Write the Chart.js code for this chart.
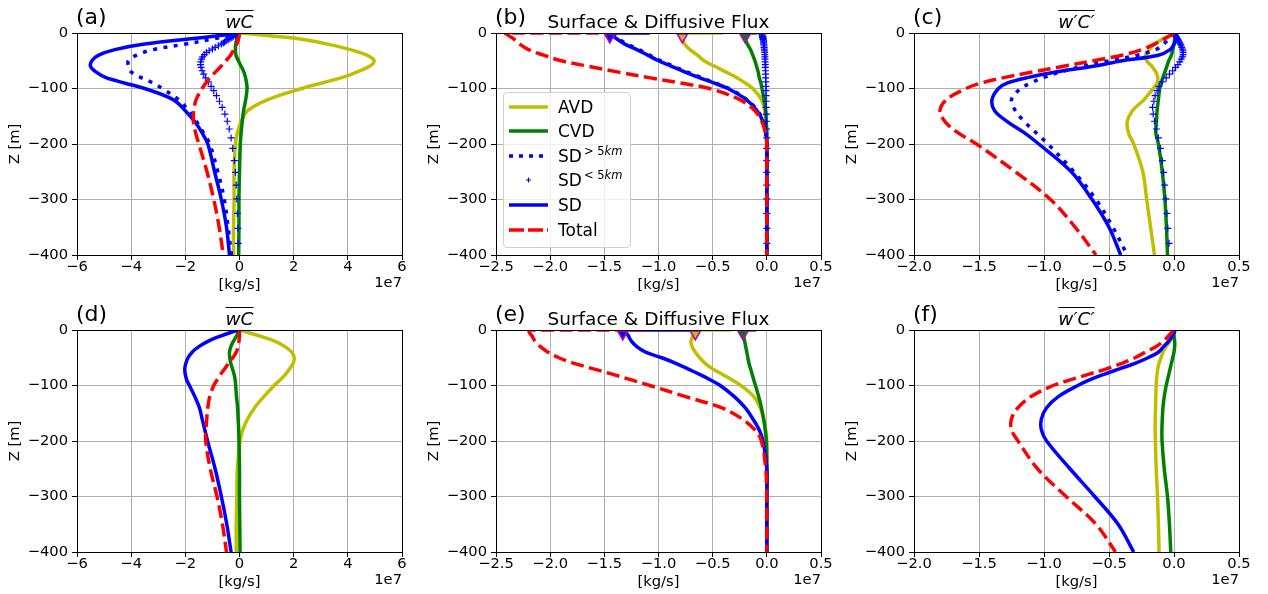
<!DOCTYPE html>
<html>
<head>
<meta charset="utf-8">
<script src="https://cdn.jsdelivr.net/npm/chart.js@4.4.1/dist/chart.umd.min.js"></script>
<style>
  body { margin: 0; background: #fff; }
  #fig { position: relative; width: 1268px; height: 594px; overflow: hidden; background: #fff;
         font-family: 'DejaVu Sans', sans-serif; color: #000; }
  #fig canvas { position: absolute; }
  .txt { position: absolute; white-space: nowrap; }
  .plabel { font-size: 22px; line-height: 22px; }
  .ptitle { font-size: 18.5px; line-height: 19px; text-align: center; }
  .ol { font-style: italic; text-decoration: overline; text-decoration-thickness: 1px; }
  .expo { font-size: 14.7px; line-height: 17px; text-align: right; }
  #legend { position: absolute; left: 503px; top: 92px; width: 126px; height: 154px;
            background: rgba(255,255,255,0.8); border: 1px solid #d0d0d0; border-radius: 4px; }
  #legend .row { position: absolute; left: 0; height: 24px; font-size: 17px; line-height: 24px; }
  #legend svg { position: absolute; left: 5px; top: 7px; }
  #legend .lab { position: absolute; left: 54px; top: 0; white-space: nowrap; }
  #legend sup { font-size: 11.5px; vertical-align: 7px; line-height: 0; margin-left: 2px; }
</style>
</head>
<body>
<div id="fig">
  <canvas id="pa" width="440" height="297" style="left:0px;top:0px"></canvas>
  <canvas id="pb" width="440" height="297" style="left:419px;top:0px"></canvas>
  <canvas id="pc" width="440" height="297" style="left:837px;top:0px"></canvas>
  <canvas id="pd" width="440" height="297" style="left:0px;top:297px"></canvas>
  <canvas id="pe" width="440" height="297" style="left:419px;top:297px"></canvas>
  <canvas id="pf" width="440" height="297" style="left:837px;top:297px"></canvas>
  <div id="legend"></div>
</div>
<script>
// depth of each profile point [m]
const depth = [0, -5, -10, -20, -30, -40, -50, -60, -70, -80, -90, -100, -120, -140, -160, -180, -200, -250, -300, -350, -400];
// model levels carrying the SD<5km markers [m]
const levels = [0, -2, -4, -6, -8, -10, -12, -14, -16, -18, -20, -23, -26, -29, -32, -35, -39, -43, -47, -52, -57, -62,
                -68, -74, -81, -88, -96, -104, -113, -123, -134, -146, -159, -173, -189, -208, -230, -251, -274, -299,
                -325, -352, -379];
// depth at which the surface-flux triangles sit [m]
const triDepth = -7;

// all fluxes in units of 1e7 kg/s
// (a) mean wC
const aAVD   = [0, 1.1, 2.1, 3.25, 4.1, 4.7, 4.97, 4.8, 4.35, 3.8, 3.05, 2.3, 1.05, 0.3, 0.06, -0.08, -0.15, -0.2, -0.2, -0.22, -0.22];
const aCVD   = [0, -0.04, -0.09, -0.14, -0.15, -0.13, -0.04, 0.06, 0.16, 0.22, 0.26, 0.28, 0.23, 0.15, 0.1, 0.06, 0.03, 0, -0.02, -0.02, -0.03];
const aSDgt  = [0, -0.4, -0.9, -2.0, -3.2, -3.8, -4.1, -4.1, -4.0, -3.65, -3.2, -2.85, -2.25, -1.88, -1.58, -1.33, -1.1, -0.8, -0.56, -0.42, -0.3];
const aSD    = [0, -0.8, -1.7, -3.5, -4.6, -5.2, -5.45, -5.5, -5.3, -4.95, -4.25, -3.5, -2.45, -2.0, -1.65, -1.38, -1.17, -0.92, -0.67, -0.48, -0.37];
const aTotal = [0, -0.01, -0.03, -0.1, -0.21, -0.33, -0.5, -0.68, -0.88, -1.08, -1.24, -1.38, -1.6, -1.69, -1.7, -1.62, -1.5, -1.2, -0.95, -0.75, -0.6];
const aSDlt  = [0, -0.08, -0.15, -0.22, -0.28, -0.35, -0.42, -0.5, -0.55, -0.6, -0.67, -0.78, -0.9, -1.0, -1.12, -1.22, -1.3,
                -1.36, -1.4, -1.43, -1.44, -1.42, -1.38, -1.32, -1.25, -1.15, -1.05, -0.95, -0.85, -0.74, -0.64, -0.54,
                -0.45, -0.38, -0.31, -0.25, -0.19, -0.15, -0.12, -0.1, -0.08, -0.06, -0.05];

// (b) surface & diffusive flux
const bAVD   = [-0.78, -0.78, -0.78, -0.76, -0.71, -0.64, -0.58, -0.48, -0.38, -0.28, -0.2, -0.13, -0.05, -0.02, -0.01, 0, 0, 0, 0, 0, 0];
const bCVD   = [-0.2, -0.2, -0.2, -0.18, -0.15, -0.13, -0.11, -0.095, -0.08, -0.07, -0.055, -0.045, -0.025, -0.01, -0.005, 0, 0, 0, 0, 0, 0];
const bSDgt  = [-1.42, -1.4, -1.37, -1.29, -1.18, -1.08, -0.98, -0.86, -0.74, -0.61, -0.48, -0.35, -0.185, -0.085, -0.03, -0.01, 0, 0, 0, 0, 0];
const bSD    = [-1.45, -1.42, -1.39, -1.31, -1.2, -1.1, -1.0, -0.88, -0.76, -0.63, -0.49, -0.36, -0.19, -0.09, -0.035, -0.01, 0, 0, 0, 0, 0];
const bTotal = [-2.42, -2.38, -2.34, -2.28, -2.2, -2.06, -1.9, -1.65, -1.38, -1.1, -0.8, -0.53, -0.25, -0.11, -0.045, -0.012, 0, 0, 0, 0, 0];
const bSDlt  = [-0.04, -0.045, -0.045, -0.04, -0.04, -0.035, -0.035, -0.03, -0.03, -0.03, -0.028, -0.026, -0.025, -0.024,
                -0.022, -0.02, -0.019, -0.018, -0.017, -0.016, -0.015, -0.014, -0.013, -0.012, -0.011, -0.01, -0.009,
                -0.008, -0.007, -0.006, -0.005, -0.004, -0.003, -0.002, -0.001, 0, 0, 0, 0, 0, 0, 0, 0];
// value at the surface end of the top segment: AVD, CVD, SD, Total
const bSurfEnd = [-0.40, -0.09, -1.08, -1.55];

// (c) eddy w'C'
const cAVD   = [0, -0.04, -0.08, -0.15, -0.19, -0.22, -0.21, -0.17, -0.14, -0.125, -0.13, -0.16, -0.23, -0.32, -0.36, -0.35, -0.31, -0.24, -0.21, -0.18, -0.15];
const cCVD   = [0.01, 0.01, 0.005, 0, -0.01, -0.02, -0.04, -0.055, -0.07, -0.085, -0.1, -0.11, -0.12, -0.13, -0.135, -0.14, -0.12, -0.09, -0.07, -0.058, -0.05];
const cSDgt  = [0, -0.02, -0.04, -0.08, -0.14, -0.28, -0.5, -0.7, -0.87, -1.0, -1.1, -1.18, -1.25, -1.22, -1.15, -1.06, -0.97, -0.77, -0.6, -0.47, -0.36];
const cSD    = [0.01, 0.02, 0.02, 0, -0.03, -0.12, -0.4, -0.62, -0.9, -1.12, -1.28, -1.35, -1.4, -1.38, -1.28, -1.15, -1.04, -0.79, -0.63, -0.5, -0.41];
const cTotal = [0, -0.03, -0.07, -0.15, -0.25, -0.4, -0.62, -0.85, -1.08, -1.3, -1.48, -1.6, -1.75, -1.8, -1.76, -1.66, -1.52, -1.22, -0.95, -0.76, -0.6];
const cSDlt  = [0, 0.005, 0.01, 0.015, 0.02, 0.025, 0.03, 0.035, 0.04, 0.045, 0.05, 0.055, 0.06, 0.065, 0.068, 0.07, 0.07,
                0.065, 0.055, 0.045, 0.03, 0.012, -0.01, -0.035, -0.06, -0.09, -0.115, -0.13, -0.145, -0.155, -0.165,
                -0.16, -0.15, -0.135, -0.12, -0.105, -0.09, -0.08, -0.072, -0.062, -0.055, -0.048, -0.038];

// (d) mean wC, second run
const dAVD   = [0, 0.35, 0.7, 1.3, 1.68, 1.93, 2.02, 1.98, 1.85, 1.7, 1.5, 1.28, 0.9, 0.56, 0.3, 0.12, 0.02, -0.08, -0.1, -0.12, -0.12];
const dCVD   = [0, -0.05, -0.1, -0.22, -0.32, -0.37, -0.36, -0.32, -0.26, -0.2, -0.16, -0.14, -0.11, -0.07, -0.05, -0.03, -0.02, 0, 0, 0.01, 0.02];
const dSD    = [0, -0.35, -0.65, -1.15, -1.5, -1.75, -1.9, -1.98, -2.02, -2.0, -1.95, -1.85, -1.65, -1.48, -1.38, -1.28, -1.18, -0.9, -0.67, -0.47, -0.31];
const dTotal = [0, 0, 0, -0.02, -0.05, -0.12, -0.25, -0.4, -0.55, -0.7, -0.83, -0.95, -1.1, -1.17, -1.21, -1.24, -1.25, -1.08, -0.83, -0.63, -0.48];

// (e) surface & diffusive flux, second run
const eAVD   = [-0.66, -0.67, -0.68, -0.7, -0.69, -0.66, -0.62, -0.57, -0.5, -0.41, -0.32, -0.24, -0.12, -0.06, -0.03, -0.01, 0, 0, 0, 0, 0];
const eCVD   = [-0.22, -0.22, -0.215, -0.205, -0.195, -0.185, -0.175, -0.165, -0.15, -0.135, -0.12, -0.105, -0.075, -0.05, -0.03, -0.015, -0.005, 0, 0, 0, 0];
const eSD    = [-1.33, -1.3, -1.28, -1.25, -1.2, -1.12, -0.97, -0.84, -0.73, -0.62, -0.52, -0.43, -0.3, -0.2, -0.13, -0.07, -0.035, 0, 0, 0, 0];
const eTotal = [-2.2, -2.19, -2.17, -2.14, -2.09, -2.02, -1.92, -1.78, -1.6, -1.42, -1.25, -1.08, -0.75, -0.42, -0.23, -0.11, -0.05, -0.01, 0, 0, 0];
const eSurfEnd = [-0.32, -0.10, -0.69, -1.11];

// (f) eddy w'C', second run
const fAVD   = [0, -0.005, -0.01, -0.03, -0.06, -0.085, -0.1, -0.115, -0.125, -0.13, -0.135, -0.137, -0.14, -0.142, -0.144, -0.145, -0.143, -0.137, -0.127, -0.12, -0.115];
const fCVD   = [0, 0, 0, 0.005, 0.005, 0, -0.01, -0.02, -0.03, -0.04, -0.05, -0.06, -0.075, -0.085, -0.09, -0.093, -0.092, -0.075, -0.05, -0.035, -0.025];
const fSD    = [0.01, 0, -0.01, -0.04, -0.08, -0.12, -0.2, -0.3, -0.42, -0.54, -0.65, -0.74, -0.89, -0.98, -1.02, -1.02, -0.98, -0.8, -0.61, -0.43, -0.31];
const fTotal = [0, -0.02, -0.04, -0.08, -0.14, -0.22, -0.3, -0.4, -0.52, -0.66, -0.8, -0.93, -1.1, -1.2, -1.25, -1.25, -1.2, -1.05, -0.83, -0.6, -0.45];

const COLORS = { avd: '#bfbf00', cvd: '#008000', sd: '#0000ff', total: '#ff0000', edge: '#bf00bf' };
const LW = 3.5;
const DOTTED = [4, 6.5];
const DASHED = [13, 5.5];

Chart.defaults.font.family = "'DejaVu Sans', sans-serif";
Chart.defaults.color = '#000';

function pts(xs, ys) { return xs.map((x, i) => ({ x: x, y: ys[i] })); }

function lineSet(xs, color, dash, width) {
    return {
        data: pts(xs, depth), showLine: true, pointRadius: 0, pointHoverRadius: 0,
        borderColor: color, backgroundColor: color, borderWidth: width || LW,
        borderDash: dash || [], tension: 0.35, fill: false
    };
}

function crossSet(xs) {
    return {
        data: pts(xs, levels), showLine: false, pointStyle: 'cross', pointRadius: 3.5,
        borderColor: COLORS.sd, backgroundColor: COLORS.sd, pointBorderWidth: 1.2
    };
}

// short segment along the surface between the surface value and the first profile value
function surfSet(endX, startX, color, dash) {
    return {
        data: [{ x: endX, y: 0 }, { x: startX, y: 0 }], showLine: true, pointRadius: 0,
        borderColor: color, borderWidth: LW, borderDash: dash || [], tension: 0
    };
}

function triSet(x, color) {
    return {
        data: [{ x: x, y: triDepth }], showLine: false, pointStyle: 'triangle', rotation: 180,
        pointRadius: 6, backgroundColor: color, borderColor: COLORS.edge, pointBorderWidth: 1.6
    };
}

// matplotlib draws later series on top; Chart.js draws lower "order" on top
function stack(sets) {
    return sets.map((s, i) => Object.assign(s, { order: sets.length - i }));
}

const framePlugin = {
    id: 'frame',
    afterDatasetsDraw(chart) {
        const { ctx, chartArea: a } = chart;
        ctx.save();
        ctx.strokeStyle = '#000';
        ctx.lineWidth = 1;
        ctx.strokeRect(Math.round(a.left) + 0.5, Math.round(a.top) + 0.5,
                       Math.round(a.right - a.left), Math.round(a.bottom - a.top));
        ctx.restore();
    }
};

function fmtX(decimals) {
    return v => {
        if (Math.abs(v) < 1e-9) v = 0;
        const s = Math.abs(v).toFixed(decimals);
        return v < 0 ? '\u2212' + s : s;
    };
}

function makeChart(id, xMin, xMax, xStep, decimals, datasets) {
    return new Chart(document.getElementById(id), {
        type: 'scatter',
        data: { datasets: stack(datasets) },
        options: {
            responsive: false,
            animation: false,
            events: [],
            layout: { padding: { top: 33, right: 38, left: 0, bottom: 0 } },
            plugins: { legend: { display: false }, tooltip: { enabled: false } },
            scales: {
                x: {
                    type: 'linear', min: xMin, max: xMax,
                    afterFit: s => { s.height = 42; },
                    grid: { color: '#b0b0b0', lineWidth: 1, tickLength: 5, tickColor: '#000', tickWidth: 1 },
                    border: { display: true, color: '#000', width: 1 },
                    ticks: { stepSize: xStep, autoSkip: false, maxRotation: 0, padding: -2,
                             font: { size: 14.7 }, color: '#000', callback: fmtX(decimals) },
                    title: { display: true, text: '[kg/s]', font: { size: 14.7 }, color: '#000',
                             padding: { top: 0, bottom: 3 } }
                },
                y: {
                    type: 'linear', min: -400, max: 0,
                    afterFit: s => { s.width = 77; },
                    grid: { color: '#b0b0b0', lineWidth: 1, tickLength: 5, tickColor: '#000', tickWidth: 1 },
                    border: { display: true, color: '#000', width: 1 },
                    ticks: { stepSize: 100, padding: 4, font: { size: 14.7 }, color: '#000',
                             callback: fmtX(0) },
                    title: { display: true, text: 'Z [m]', font: { size: 14.7 }, color: '#000',
                             padding: { top: 6, bottom: 0 } }
                }
            }
        },
        plugins: [framePlugin]
    });
}

makeChart('pa', -6, 6, 2, 0, [
    lineSet(aAVD, COLORS.avd), lineSet(aCVD, COLORS.cvd),
    lineSet(aSDgt, COLORS.sd, DOTTED), crossSet(aSDlt),
    lineSet(aSD, COLORS.sd), lineSet(aTotal, COLORS.total, DASHED)
]);

makeChart('pb', -2.5, 0.5, 0.5, 1, [
    lineSet(bAVD, COLORS.avd), surfSet(bSurfEnd[0], bAVD[0], COLORS.avd),
    lineSet(bCVD, COLORS.cvd), surfSet(bSurfEnd[1], bCVD[0], COLORS.cvd),
    lineSet(bSDgt, COLORS.sd, DOTTED), crossSet(bSDlt),
    lineSet(bSD, COLORS.sd), surfSet(bSurfEnd[2], bSD[0], COLORS.sd),
    triSet(bAVD[0], COLORS.avd), triSet(bCVD[0], COLORS.cvd), triSet(bSD[0], COLORS.sd),
    lineSet(bTotal, COLORS.total, DASHED), surfSet(bSurfEnd[3], bTotal[0], COLORS.total, DASHED)
]);

makeChart('pc', -2, 0.5, 0.5, 1, [
    lineSet(cAVD, COLORS.avd), lineSet(cCVD, COLORS.cvd),
    lineSet(cSDgt, COLORS.sd, DOTTED), crossSet(cSDlt),
    lineSet(cSD, COLORS.sd), lineSet(cTotal, COLORS.total, DASHED)
]);

makeChart('pd', -6, 6, 2, 0, [
    lineSet(dAVD, COLORS.avd), lineSet(dCVD, COLORS.cvd),
    lineSet(dSD, COLORS.sd), lineSet(dTotal, COLORS.total, DASHED)
]);

makeChart('pe', -2.5, 0.5, 0.5, 1, [
    lineSet(eAVD, COLORS.avd), surfSet(eSurfEnd[0], eAVD[0], COLORS.avd),
    lineSet(eCVD, COLORS.cvd), surfSet(eSurfEnd[1], eCVD[0], COLORS.cvd),
    lineSet(eSD, COLORS.sd), surfSet(eSurfEnd[2], eSD[0], COLORS.sd),
    triSet(eAVD[0], COLORS.avd), triSet(eCVD[0], COLORS.cvd), triSet(eSD[0], COLORS.sd),
    lineSet(eTotal, COLORS.total, DASHED), surfSet(eSurfEnd[3], eTotal[0], COLORS.total, DASHED)
]);

makeChart('pf', -2, 0.5, 0.5, 1, [
    lineSet(fAVD, COLORS.avd), lineSet(fCVD, COLORS.cvd),
    lineSet(fSD, COLORS.sd), lineSet(fTotal, COLORS.total, DASHED)
]);

// panel labels, titles and the 1e7 offset text
const fig = document.getElementById('fig');
const panels = [
    { left: 77,  top: 33,  tag: '(a)', title: '<span class="ol">wC</span>' },
    { left: 496, top: 33,  tag: '(b)', title: 'Surface &amp; Diffusive Flux' },
    { left: 914, top: 33,  tag: '(c)', title: '<span class="ol">w\u2032C\u2032</span>' },
    { left: 77,  top: 330, tag: '(d)', title: '<span class="ol">wC</span>' },
    { left: 496, top: 330, tag: '(e)', title: 'Surface &amp; Diffusive Flux' },
    { left: 914, top: 330, tag: '(f)', title: '<span class="ol">w\u2032C\u2032</span>' }
];
panels.forEach(p => {
    const tag = document.createElement('div');
    tag.className = 'txt plabel';
    tag.style.left = (p.left - 1) + 'px';
    tag.style.top = (p.top - 27) + 'px';
    tag.textContent = p.tag;
    fig.appendChild(tag);

    const ttl = document.createElement('div');
    ttl.className = 'txt ptitle';
    ttl.style.left = p.left + 'px';
    ttl.style.width = '325px';
    ttl.style.top = (p.top - 21) + 'px';
    ttl.innerHTML = p.title;
    fig.appendChild(ttl);

    const ex = document.createElement('div');
    ex.className = 'txt expo';
    ex.style.left = (p.left + 225) + 'px';
    ex.style.width = '100px';
    ex.style.top = (p.top + 239.5) + 'px';
    ex.textContent = '1e7';
    fig.appendChild(ex);
});

// legend of panel (b)
const legendItems = [
    { label: 'AVD', kind: 'line', color: COLORS.avd },
    { label: 'CVD', kind: 'line', color: COLORS.cvd },
    { label: 'SD<sup>&gt; 5<i>km</i></sup>', kind: 'dot', color: COLORS.sd },
    { label: 'SD<sup>&lt; 5<i>km</i></sup>', kind: 'cross', color: COLORS.sd },
    { label: 'SD', kind: 'line', color: COLORS.sd },
    { label: 'Total', kind: 'dash', color: COLORS.total }
];
const legend = document.getElementById('legend');
legendItems.forEach((it, i) => {
    let mark;
    if (it.kind === 'cross') {
        mark = `<path d="M19.5 2.5 V7.5 M17 5 H22" stroke="${it.color}" stroke-width="1.2" fill="none"/>`;
    } else {
        const dash = it.kind === 'dot' ? 'stroke-dasharray="4 6"' : it.kind === 'dash' ? 'stroke-dasharray="15 4"' : '';
        const w = it.kind === 'dot' ? 3.5 : LW;
        mark = `<line x1="0" y1="5" x2="39" y2="5" stroke="${it.color}" stroke-width="${w}" ${dash}/>`;
    }
    const row = document.createElement('div');
    row.className = 'row';
    row.style.top = (1.5 + 24.6 * i) + 'px';
    row.innerHTML = `<svg width="39" height="10">${mark}</svg><span class="lab">${it.label}</span>`;
    legend.appendChild(row);
});
</script>
</body>
</html>
